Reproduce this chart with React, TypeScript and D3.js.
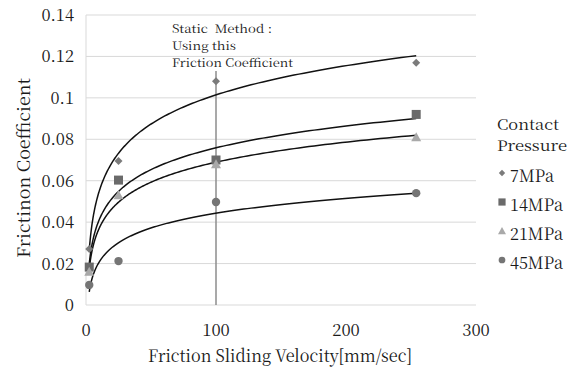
import React from "react";
import * as d3 from "d3";

// Sliding velocity [mm/sec] of the measured points
const velocities = [2.5, 25, 100, 254];

// Friction coefficient per contact pressure
const mu7 = [0.027, 0.0695, 0.108, 0.117];
const mu14 = [0.0183, 0.0603, 0.07, 0.092];
const mu21 = [0.016, 0.053, 0.068, 0.081];
const mu45 = [0.0097, 0.0212, 0.0497, 0.054];

const seriesNames = ["7MPa", "14MPa", "21MPa", "45MPa"];
const seriesColors = ["#7b7b7b", "#6a6a6a", "#a9a9a9", "#757575"];
const seriesShapes = ["diamond", "square", "triangle", "circle"];

const xTicks = [0, 100, 200, 300];
const yTicks = [0, 0.02, 0.04, 0.06, 0.08, 0.1, 0.12, 0.14];
const yTickLabels = ["0", "0.02", "0.04", "0.06", "0.08", "0.1", "0.12", "0.14"];

const staticVelocity = 100;
const staticTop = 0.113;
const noteLines = ["Static  Method :", "Using this", "Friction Coefficient"];
const legendTitle = ["Contact", "Pressure"];

const W = 578;
const H = 367;
const font = "'Noto Serif CJK KR', 'Liberation Serif', serif";
const ink = "#1a1a1a";

// Width of a numeric label (digits ~9.2px, point ~5px)
function numWidth(s: string) {
  let w = 0;
  for (const c of s) w += c === "." ? 5 : 9.2;
  return w;
}

// Least-squares fit of y = a*ln(x) + b
function logFit(xs: number[], ys: number[]) {
  const lx = xs.map(Math.log);
  const mx = d3.mean(lx) as number;
  const my = d3.mean(ys) as number;
  let sxy = 0;
  let sxx = 0;
  lx.forEach((v, i) => {
    sxy += (v - mx) * (ys[i] - my);
    sxx += (v - mx) * (v - mx);
  });
  const a = sxy / sxx;
  const b = my - a * mx;
  return (x: number) => a * Math.log(x) + b;
}

function Marker({ shape, x, y, color, k = 1 }: { shape: string; x: number; y: number; color: string; k?: number }) {
  if (shape === "diamond") {
    const s = 4 * k;
    return <path d={`M${x},${y - s}L${x + s},${y}L${x},${y + s}L${x - s},${y}Z`} fill={color} />;
  }
  if (shape === "square") {
    const s = 4.5 * k;
    return <rect x={x - s} y={y - s} width={2 * s} height={2 * s} fill={color} />;
  }
  if (shape === "triangle") {
    return <path d={`M${x},${y - 5 * k}L${x + 5 * k},${y + 4 * k}L${x - 5 * k},${y + 4 * k}Z`} fill={color} />;
  }
  return <circle cx={x} cy={y} r={4.2 * k} fill={color} />;
}

export default function App() {
  const x = d3.scaleLinear().domain([0, 300]).range([86, 476]);
  const y = d3.scaleLinear().domain([0, 0.14]).range([305, 15]);
  const data = [mu7, mu14, mu21, mu45];

  const xMin = d3.min(velocities) as number;
  const xMax = d3.max(velocities) as number;
  const samples = d3.range(0, 201).map((i) => xMin * Math.pow(xMax / xMin, i / 200));
  const line = d3
    .line<[number, number]>()
    .x((d) => x(d[0]))
    .y((d) => y(d[1]));

  const noteWidths = [100, 64, 121];
  const titleWidths = [62, 70];
  const legendWidths = [44, 53, 53, 53];

  return (
    <svg width={W} height={H} style={{ position: "absolute", left: 0, top: 0 }}>
      <rect width={W} height={H} fill="#fff" />
      {yTicks.map((t) => (
        <line key={t} x1={x(0)} x2={x(300)} y1={y(t)} y2={y(t)} stroke="#d9d9d9" strokeWidth={1} />
      ))}
      <line x1={x(0)} x2={x(0)} y1={y(0.14)} y2={y(0)} stroke="#d9d9d9" strokeWidth={1} />
      {yTicks.map((t, i) => (
        <text
          key={t}
          x={74 - numWidth(yTickLabels[i])}
          y={y(t) + 6}
          textLength={numWidth(yTickLabels[i])}
          lengthAdjust="spacingAndGlyphs"
          fontFamily={font}
          fontSize={17}
          fill={ink}
        >
          {yTickLabels[i]}
        </text>
      ))}
      {xTicks.map((t) => (
        <text
          key={t}
          x={x(t) - numWidth(String(t)) / 2}
          y={336}
          textLength={numWidth(String(t))}
          lengthAdjust="spacingAndGlyphs"
          fontFamily={font}
          fontSize={17}
          fill={ink}
        >
          {t}
        </text>
      ))}
      <line
        x1={x(staticVelocity)}
        x2={x(staticVelocity)}
        y1={y(0)}
        y2={y(staticTop)}
        stroke="#8c8c8c"
        strokeWidth={1.5}
      />
      {noteLines.map((s, i) => (
        <text
          key={i}
          x={172}
          y={33 + i * 17}
          textLength={noteWidths[i]}
          lengthAdjust="spacingAndGlyphs"
          fontFamily={font}
          fontSize={11.5}
          fill={ink}
          style={{ whiteSpace: "pre" }}
        >
          {s}
        </text>
      ))}
      {data.map((ys, si) => {
        const f = logFit(velocities, ys);
        return (
          <path
            key={"fit" + si}
            d={line(samples.map((v) => [v, f(v)] as [number, number])) as string}
            fill="none"
            stroke="#111"
            strokeWidth={1.5}
          />
        );
      })}
      {data.map((ys, si) =>
        ys.map((v, i) => (
          <Marker key={si + "-" + i} shape={seriesShapes[si]} x={x(velocities[i])} y={y(v)} color={seriesColors[si]} />
        ))
      )}
      <text
        transform={`translate(30,258) rotate(-90)`}
        textLength={180}
        lengthAdjust="spacingAndGlyphs"
        fontFamily={font}
        fontSize={17.5}
        fill={ink}
      >
        Frictinon Coefficient
      </text>
      <text
        x={148}
        y={362}
        textLength={264}
        lengthAdjust="spacingAndGlyphs"
        fontFamily={font}
        fontSize={17.5}
        fill={ink}
      >
        Friction Sliding Velocity[mm/sec]
      </text>
      {legendTitle.map((s, i) => (
        <text
          key={s}
          x={497}
          y={130 + i * 21}
          textLength={titleWidths[i]}
          lengthAdjust="spacingAndGlyphs"
          fontFamily={font}
          fontSize={14.2}
          fill={ink}
        >
          {s}
        </text>
      ))}
      {seriesNames.map((n, i) => {
        const cy = 176 + i * 29;
        return (
          <g key={n}>
            <Marker shape={seriesShapes[i]} x={502} y={cy - 3} color={seriesColors[i]} k={0.8} />
            <text
              x={510}
              y={cy + 6}
              textLength={legendWidths[i]}
              lengthAdjust="spacingAndGlyphs"
              fontFamily={font}
              fontSize={17}
              fill={ink}
            >
              {n}
            </text>
          </g>
        );
      })}
    </svg>
  );
}
